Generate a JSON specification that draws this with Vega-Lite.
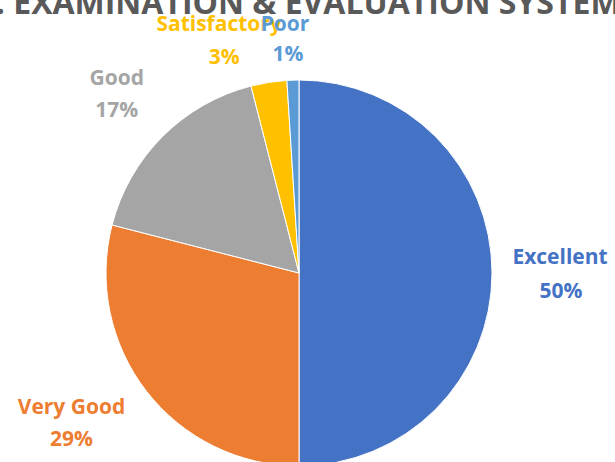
{
  "$schema": "https://vega.github.io/schema/vega-lite/v6.json",
  "autosize": "none",
  "width": 598,
  "height": 378,
  "padding": {"left": 0, "right": 17, "top": 84, "bottom": 0},
  "background": "white",
  "config": {"view": {"stroke": null}, "text": {"font": "Open Sans", "fontSize": 21, "fontWeight": "bold", "baseline": "middle", "radius": 255}},
  "title": {
    "text": "4. EXAMINATION & EVALUATION SYSTEM",
    "font": "Open Sans",
    "fontSize": 32,
    "fontWeight": "bold",
    "color": "#595959",
    "anchor": "middle",
    "frame": "group",
    "baseline": "alphabetic",
    "offset": 0,
    "dy": 60
  },
  "data": {
    "values": [
      {"category": "Excellent", "share": 0.50, "ord": 1},
      {"category": "Very Good", "share": 0.29, "ord": 2},
      {"category": "Good", "share": 0.17, "ord": 3},
      {"category": "Satisfactory", "share": 0.03, "ord": 4},
      {"category": "Poor", "share": 0.01, "ord": 5}
    ]
  },
  "encoding": {
    "theta": {"field": "share", "type": "quantitative", "stack": true},
    "order": {"field": "ord", "type": "quantitative"},
    "color": {
      "field": "category",
      "type": "nominal",
      "scale": {
        "domain": ["Excellent", "Very Good", "Good", "Satisfactory", "Poor"],
        "range": ["#4472C4", "#ED7D31", "#A5A5A5", "#FFC000", "#5B9BD5"]
      },
      "legend": null
    }
  },
  "layer": [
    {"mark": {"type": "arc", "outerRadius": 193, "stroke": "white", "strokeWidth": 1}},
    {"mark": {"type": "text", "dx": 6, "dy": -15}, "encoding": {"text": {"condition": {"test": "datum.category === 'Excellent'", "field": "category"}, "value": ""}}},
    {"mark": {"type": "text", "dx": 7, "dy": 19}, "encoding": {"text": {"condition": {"test": "datum.category === 'Excellent'", "field": "share", "format": ".0%"}, "value": ""}}},
    {"mark": {"type": "text", "dx": -26, "dy": -21}, "encoding": {"text": {"condition": {"test": "datum.category === 'Very Good'", "field": "category"}, "value": ""}}},
    {"mark": {"type": "text", "dx": -26, "dy": 11}, "encoding": {"text": {"condition": {"test": "datum.category === 'Very Good'", "field": "share", "format": ".0%"}, "value": ""}}},
    {"mark": {"type": "text", "dx": -2, "dy": -14}, "encoding": {"text": {"condition": {"test": "datum.category === 'Good'", "field": "category"}, "value": ""}}},
    {"mark": {"type": "text", "dx": -2, "dy": 18}, "encoding": {"text": {"condition": {"test": "datum.category === 'Good'", "field": "share", "format": ".0%"}, "value": ""}}},
    {"mark": {"type": "text", "dx": -40, "dy": 4}, "encoding": {"text": {"condition": {"test": "datum.category === 'Satisfactory'", "field": "category"}, "value": ""}}},
    {"mark": {"type": "text", "dx": -35, "dy": 37}, "encoding": {"text": {"condition": {"test": "datum.category === 'Satisfactory'", "field": "share", "format": ".0%"}, "value": ""}}},
    {"mark": {"type": "text", "dx": -6, "dy": 7}, "encoding": {"text": {"condition": {"test": "datum.category === 'Poor'", "field": "category"}, "value": ""}}},
    {"mark": {"type": "text", "dx": -3, "dy": 37}, "encoding": {"text": {"condition": {"test": "datum.category === 'Poor'", "field": "share", "format": ".0%"}, "value": ""}}}
  ]
}
